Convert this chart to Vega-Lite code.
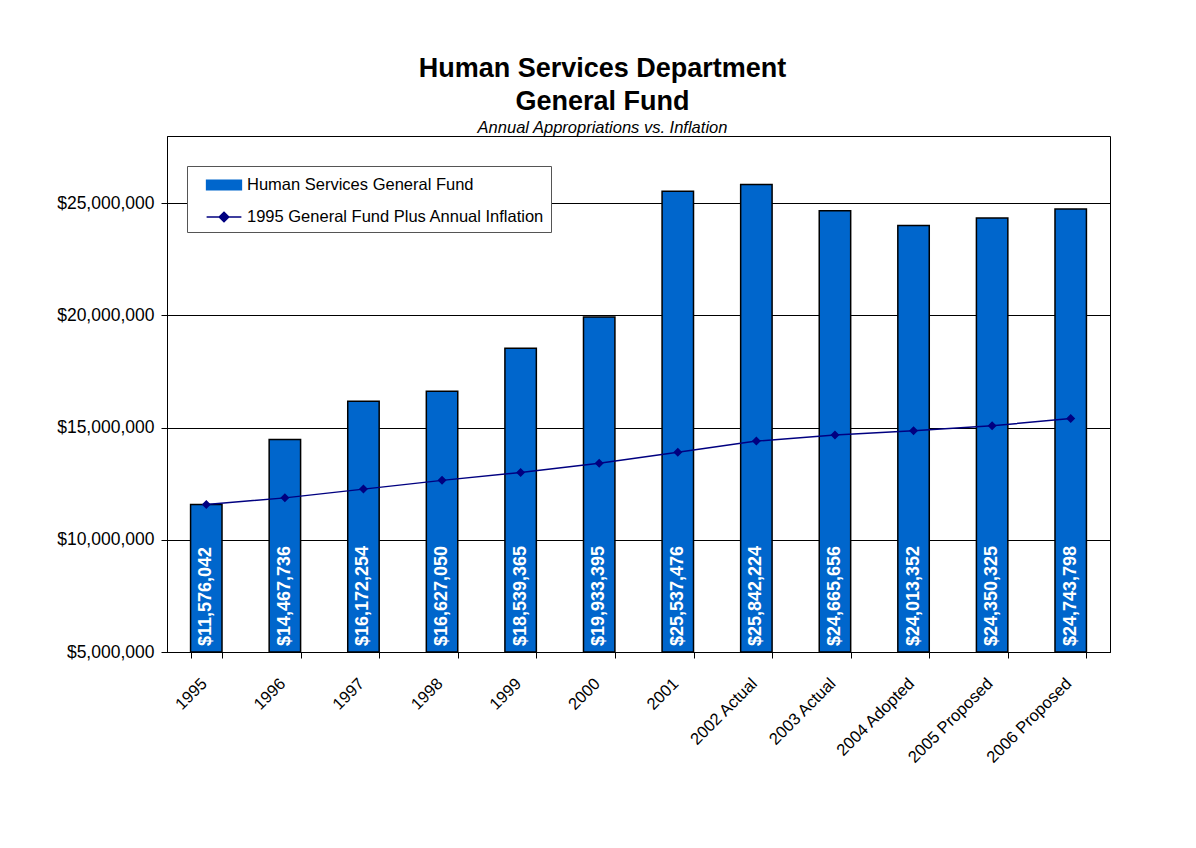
{
  "$schema": "https://vega.github.io/schema/vega-lite/v6.json",
  "width": 943,
  "height": 516,
  "autosize": "none",
  "padding": {"left": 167, "top": 136, "right": 86, "bottom": 196},
  "background": "white",
  "config": {
    "view": {"stroke": "black", "strokeWidth": 1},
    "font": "Liberation Sans"
  },
  "title": {
    "text": ["Human Services Department", "General Fund"],
    "subtitle": "Annual Appropriations vs. Inflation",
    "font": "Liberation Sans",
    "fontSize": 27,
    "fontWeight": "bold",
    "color": "black",
    "lineHeight": 33,
    "subtitleFont": "Liberation Sans",
    "subtitleFontStyle": "italic",
    "subtitleFontSize": 16.5,
    "subtitleColor": "black",
    "subtitlePadding": 4,
    "anchor": "middle",
    "frame": "group",
    "dx": -36,
    "offset": -1
  },
  "data": {
    "values": [
      {"year": "1995", "fund": 11576042, "inflation": 11576042},
      {"year": "1996", "fund": 14467736, "inflation": 11870000},
      {"year": "1997", "fund": 16172254, "inflation": 12260000},
      {"year": "1998", "fund": 16627050, "inflation": 12650000},
      {"year": "1999", "fund": 18539365, "inflation": 13000000},
      {"year": "2000", "fund": 19933395, "inflation": 13410000},
      {"year": "2001", "fund": 25537476, "inflation": 13900000},
      {"year": "2002 Actual", "fund": 25842224, "inflation": 14400000},
      {"year": "2003 Actual", "fund": 24665656, "inflation": 14670000},
      {"year": "2004 Adopted", "fund": 24013352, "inflation": 14860000},
      {"year": "2005 Proposed", "fund": 24350325, "inflation": 15080000},
      {"year": "2006 Proposed", "fund": 24743798, "inflation": 15410000}
    ]
  },
  "encoding": {
    "x": {
      "field": "year",
      "type": "nominal",
      "sort": null,
      "scale": {"paddingInner": 0.6, "paddingOuter": 0.3},
      "axis": {
        "title": null,
        "labelAngle": -45,
        "labelFontSize": 16.5,
        "labelColor": "black",
        "labelPadding": 17,
        "labelOffset": -8,
        "labelOverlap": false,
        "tickBand": "extent",
        "tickColor": "black",
        "tickSize": 6,
        "domainColor": "black",
        "grid": false
      }
    }
  },
  "layer": [
    {
      "mark": {"type": "bar", "stroke": "black", "strokeWidth": 1.5},
      "encoding": {
        "y": {
          "field": "fund",
          "type": "quantitative",
          "scale": {"domain": [5000000, 28000000], "nice": false, "zero": false},
          "axis": {
            "title": null,
            "values": [5000000, 10000000, 15000000, 20000000, 25000000],
            "format": "$,.0f",
            "labelFontSize": 17.5,
            "labelColor": "black",
            "labelPadding": 7,
            "tickColor": "black",
            "tickSize": 6,
            "domainColor": "black",
            "grid": true,
            "gridColor": "black",
            "gridWidth": 1
          }
        },
        "y2": {"datum": 5000000},
        "color": {
          "datum": "Human Services General Fund",
          "type": "nominal",
          "scale": {
            "domain": ["Human Services General Fund", "1995 General Fund Plus Annual Inflation"],
            "range": ["#0066CC", "#000080"]
          },
          "legend": {
            "title": null,
            "orient": "none",
            "legendX": 20,
            "legendY": 30,
            "fillColor": "white",
            "strokeColor": "#555555",
            "padding": 6,
            "labelFontSize": 16.5,
            "labelColor": "black",
            "labelLimit": 500,
            "rowPadding": 10,
            "symbolSize": 576,
            "symbolOffset": 18,
            "labelOffset": 10,
            "symbolStrokeColor": "#000080",
            "symbolStrokeWidth": 1.5,
            "symbolOpacity": 1
          }
        }
      }
    },
    {
      "mark": {
        "type": "text",
        "angle": -90,
        "align": "left",
        "baseline": "middle",
        "dx": 6,
        "color": "white",
        "fontWeight": "bold",
        "fontSize": 18,
        "font": "Liberation Sans"
      },
      "encoding": {
        "y": {"datum": 5000000, "type": "quantitative"},
        "text": {"field": "fund", "type": "quantitative", "format": "$,.0f"}
      }
    },
    {
      "mark": {"type": "line", "strokeWidth": 1.5},
      "encoding": {
        "y": {"field": "inflation", "type": "quantitative"},
        "color": {"datum": "1995 General Fund Plus Annual Inflation", "type": "nominal"}
      }
    },
    {
      "mark": {"type": "point", "filled": true, "opacity": 1, "size": 506},
      "encoding": {
        "y": {"field": "inflation", "type": "quantitative"},
        "color": {"datum": "1995 General Fund Plus Annual Inflation", "type": "nominal"},
        "shape": {
          "datum": "1995 General Fund Plus Annual Inflation",
          "type": "nominal",
          "scale": {
            "domain": ["Human Services General Fund", "1995 General Fund Plus Annual Inflation"],
            "range": ["M-1.45,-0.4H1.45V0.4H-1.45Z", "M-1.45,0H1.45M0,-0.4L0.4,0L0,0.4L-0.4,0Z"]
          },
          "legend": {
            "title": null,
            "orient": "none",
            "legendX": 20,
            "legendY": 30,
            "fillColor": "white",
            "strokeColor": "#555555",
            "padding": 6,
            "labelFontSize": 16.5,
            "labelColor": "black",
            "labelLimit": 500,
            "rowPadding": 10,
            "symbolSize": 576,
            "symbolOffset": 18,
            "labelOffset": 10,
            "symbolStrokeColor": "#000080",
            "symbolStrokeWidth": 1.5,
            "symbolOpacity": 1
          }
        }
      }
    }
  ]
}
